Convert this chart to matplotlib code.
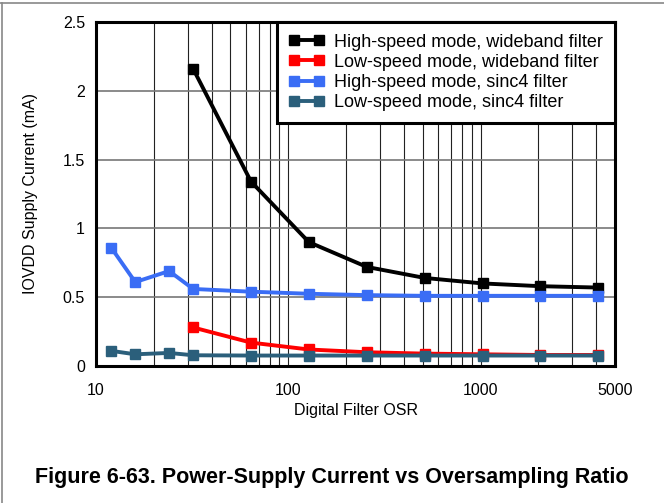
import matplotlib.pyplot as plt
from matplotlib.lines import Line2D

plt.rcParams['font.family'] = ['Liberation Sans', 'DejaVu Sans']

# OSR values (x axis)
osr_all = [12, 16, 24, 32, 64, 128, 256, 512, 1024, 2048, 4096]
osr_wb = [32, 64, 128, 256, 512, 1024, 2048, 4096]

# supply current in mA
hs_wideband = [2.16, 1.34, 0.90, 0.72, 0.64, 0.60, 0.58, 0.57]
ls_wideband = [0.28, 0.17, 0.12, 0.10, 0.09, 0.085, 0.08, 0.08]
hs_sinc4 = [0.86, 0.61, 0.69, 0.56, 0.54, 0.525, 0.515, 0.51, 0.51, 0.51, 0.51]
ls_sinc4 = [0.11, 0.085, 0.095, 0.078, 0.076, 0.076, 0.076, 0.076, 0.076, 0.076, 0.076]

labels = ['High-speed mode, wideband filter', 'Low-speed mode, wideband filter',
          'High-speed mode, sinc4 filter', 'Low-speed mode, sinc4 filter']
colors = ['#000000', '#ff0000', '#3a6df5', '#2b5f7b']

fig = plt.figure(figsize=(6.64, 5.03), dpi=100)
ax = fig.add_axes([96 / 664, 1 - 366 / 503, (615 - 96) / 664, (366 - 22) / 503])

series = [(osr_wb, hs_wideband), (osr_wb, ls_wideband), (osr_all, hs_sinc4), (osr_all, ls_sinc4)]
for (xs, ys), lab, c in zip(series, labels, colors):
    ax.plot(xs, ys, color=c, lw=2.8, marker='s', ms=6.5, mec=c, mfc=c, label=lab, zorder=3)

ax.set_xscale('log')
ax.set_xlim(10, 5000)
ax.set_ylim(0, 2.5)
ax.set_xticks([10, 100, 1000, 5000])
ax.set_xticklabels(['10', '100', '1000', '5000'])
ax.set_xticks([20, 30, 40, 50, 60, 70, 80, 90, 200, 300, 400, 500, 600, 700, 800, 900,
               2000, 3000, 4000], minor=True)
ax.set_xticklabels([], minor=True)
ax.set_yticks([0, 0.5, 1, 1.5, 2, 2.5])
ax.set_yticklabels(['0', '0.5', '1', '1.5', '2', '2.5'])
ax.tick_params(which='both', length=0, labelsize=11.5)
ax.tick_params(axis='x', pad=12)
ax.tick_params(axis='y', pad=8)
ax.grid(True, which='major', axis='y', color='#777777', lw=1.2)
ax.grid(True, which='both', axis='x', color='#222222', lw=0.8)
for s in ax.spines.values():
    s.set_linewidth(2.2)

ax.set_xlabel('Digital Filter OSR', fontsize=11.5, labelpad=4)
ax.set_ylabel('IOVDD Supply Current (mA)', fontsize=11.5, labelpad=18)

handles = [Line2D([], [], color=c, lw=2.8, marker='s', ms=6.5, mfc=c, mec=c) for c in colors]
leg = ax.legend(handles, labels, loc='upper right', fontsize=13, numpoints=2,
                handlelength=2.0, handletextpad=0.55, labelspacing=0.17,
                borderaxespad=0, fancybox=False, framealpha=1, borderpad=0.65)
leg.get_frame().set_edgecolor('black')
leg.get_frame().set_linewidth(2.2)
leg.set_zorder(5)

fig.text(0.5, 1 - 478 / 503, 'Figure 6-63. Power-Supply Current vs Oversampling Ratio',
         ha='center', va='center', fontsize=15.5, fontweight='bold')

# outer frame lines (top and left)
fig.add_artist(Line2D([0, 1], [1 - 3 / 503, 1 - 3 / 503], color='#888888', lw=1.2,
                      transform=fig.transFigure))
fig.add_artist(Line2D([1.5 / 664, 1.5 / 664], [0, 1 - 3 / 503], color='#888888', lw=1.2,
                      transform=fig.transFigure))

fig.savefig('out.png', dpi=100)
